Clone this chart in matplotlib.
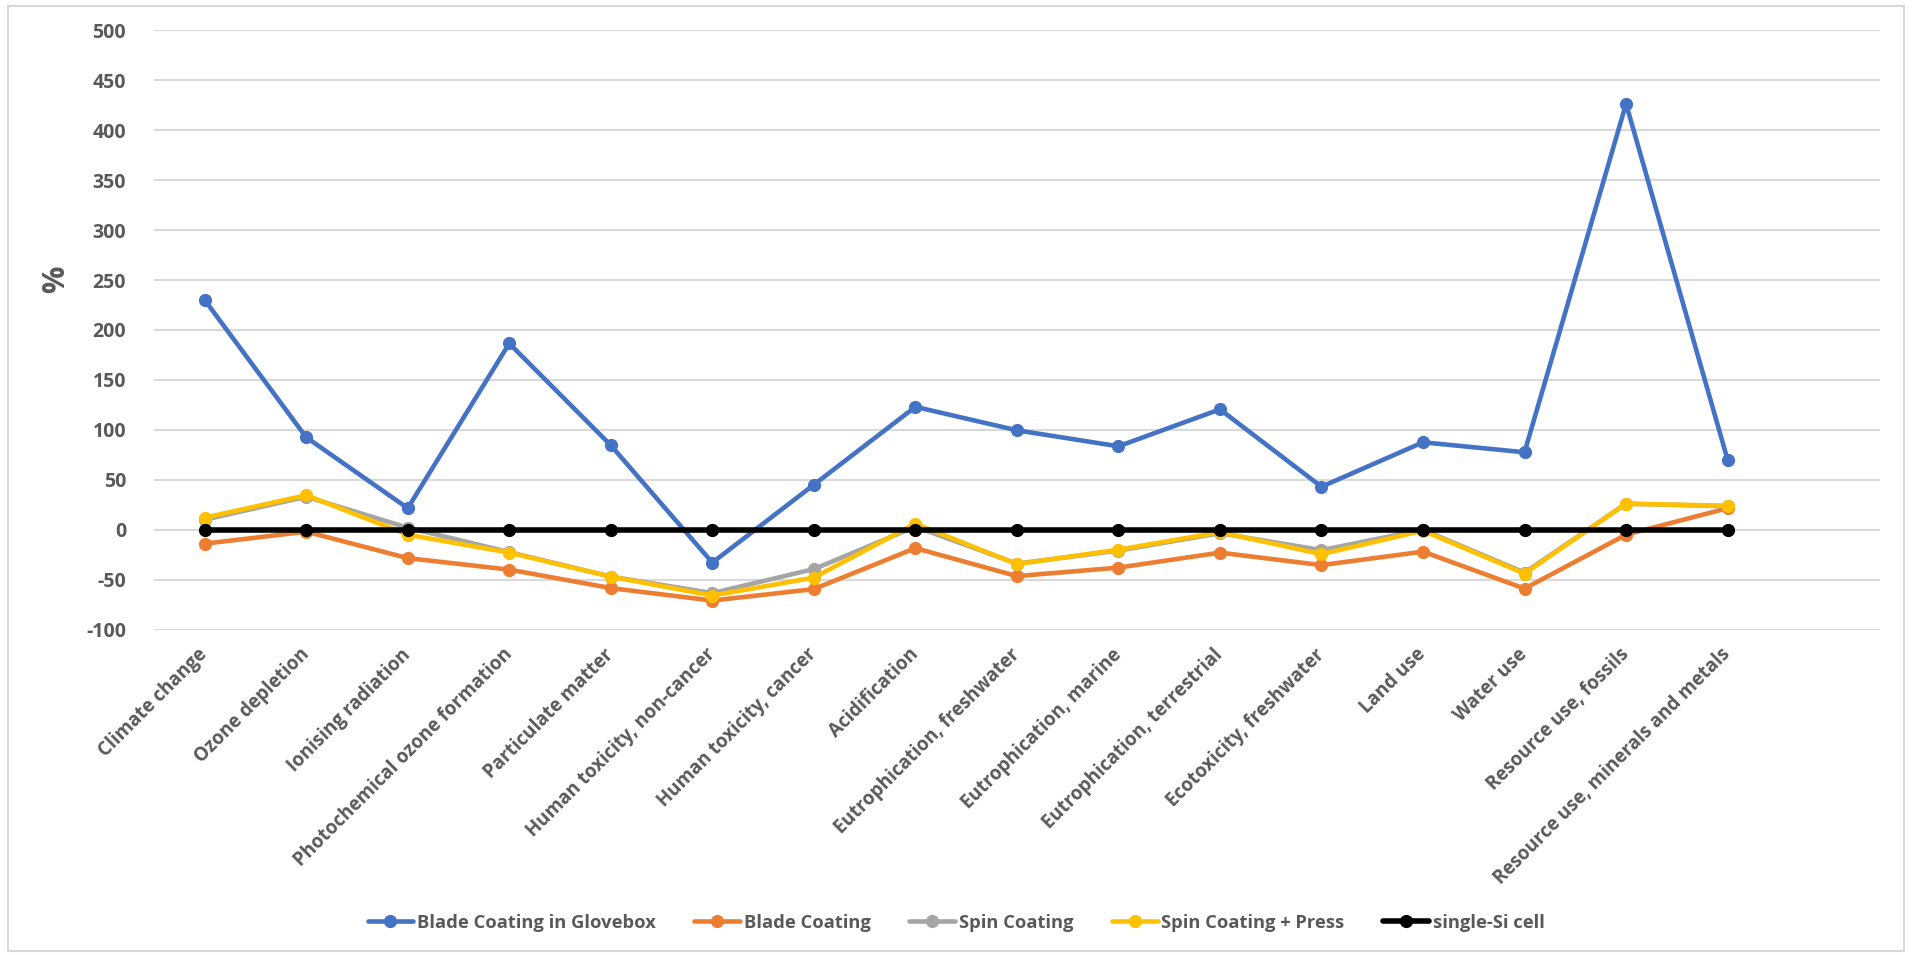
import numpy as np
import matplotlib.pyplot as plt
from matplotlib.patches import Rectangle

categories = ['Climate change', 'Ozone depletion', 'Ionising radiation',
              'Photochemical ozone formation', 'Particulate matter',
              'Human toxicity, non-cancer', 'Human toxicity, cancer',
              'Acidification', 'Eutrophication, freshwater',
              'Eutrophication, marine', 'Eutrophication, terrestrial',
              'Ecotoxicity, freshwater', 'Land use', 'Water use',
              'Resource use, fossils', 'Resource use, minerals and metals']

blade_glovebox = [230, 92.5, 21.5, 186.5, 84.5, -33, 45, 123, 99.5, 83.5,
                  120.5, 43, 87.5, 77.5, 426.5, 70]
blade = [-14, -2, -28.5, -40, -58.5, -71, -59.5, -18.5, -46.5, -38, -23,
         -35.5, -22, -59, -5, 21.5]
spin = [10, 33, 2, -22.5, -47, -63.5, -39.5, 3, -34, -21, -3.5, -20.5,
        0, -43, 26, 23.5]
spin_press = [12, 34.5, -5, -23, -47, -66, -48, 6, -34.5, -20, -2.5, -24.5,
              -1, -44, 26, 24]
single_si = [0] * 16

series = [
    ('Blade Coating in Glovebox', blade_glovebox, '#4472C4'),
    ('Blade Coating', blade, '#ED7D31'),
    ('Spin Coating', spin, '#A5A5A5'),
    ('Spin Coating + Press', spin_press, '#FFC000'),
    ('single-Si cell', single_si, '#000000'),
]

plt.rcParams['font.family'] = ['Open Sans', 'DejaVu Sans']
plt.rcParams['axes.unicode_minus'] = False
text_color = '#595959'

fig = plt.figure(figsize=(19.12, 9.55), dpi=100)
ax = fig.add_axes([0.0805, 0.3408, 0.9027, 0.6274])

x = np.arange(len(categories))
for name, vals, col in series:
    lw = 4 if name == 'single-Si cell' else 3.3
    ax.plot(x, vals, color=col, lw=lw, marker='o', ms=8.5,
            solid_capstyle='round', label=name)

ax.set_xlim(-0.5, 16.5)
ax.set_ylim(-100, 500)
ax.set_yticks(np.arange(-100, 501, 50))
ax.yaxis.grid(True, color='#D9D9D9', lw=1.5)
ax.set_axisbelow(True)
for s in ax.spines.values():
    s.set_visible(False)

ax.tick_params(axis='y', length=0, pad=20, labelsize=14, labelcolor=text_color)
for lbl in ax.get_yticklabels():
    lbl.set_fontweight('bold')

ax.set_xticks(x)
ax.set_xticklabels(categories, rotation=45, ha='right', va='center',
                   rotation_mode='anchor', fontsize=13.5, fontweight='bold',
                   color=text_color)
ax.tick_params(axis='x', length=0, pad=16)

# axis title sits well left of the tick labels
fig.text(56 / 1912, 1 - 279 / 955, '%', rotation=90, ha='center', va='center',
         fontsize=22, fontweight='bold', color=text_color)

fig.legend(loc='center', bbox_to_anchor=(0.5, 0.034), ncol=5, frameon=False,
           prop={'size': 13.2, 'weight': 'bold'}, labelcolor=text_color,
           handlelength=2.5, handletextpad=0.2, columnspacing=2.1)

# light frame round the whole chart
fig.patches.append(Rectangle((0.004, 0.004), 0.992, 0.99,
                             transform=fig.transFigure, fill=False,
                             edgecolor='#D9D9D9', lw=1.5))

fig.savefig('out.png', dpi=100)
